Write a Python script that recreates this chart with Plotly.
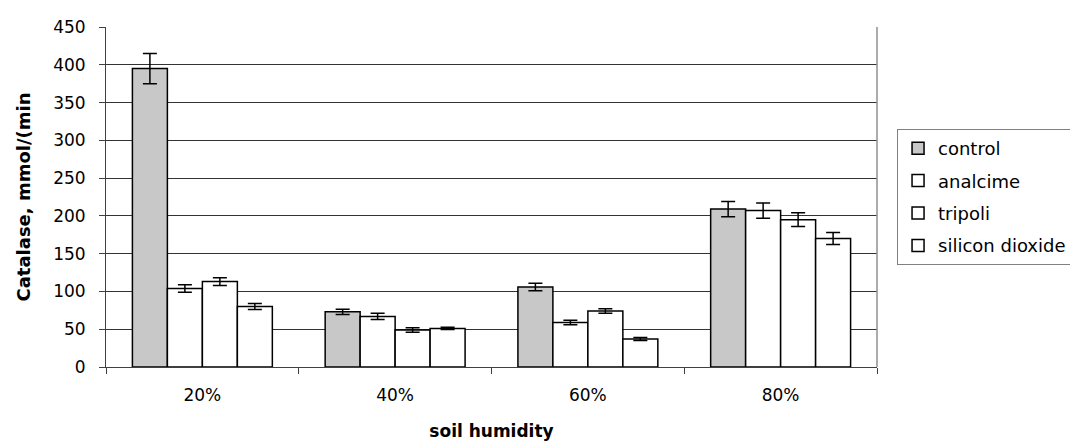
import plotly.graph_objects as go

categories = ["20%", "40%", "60%", "80%"]
series_names = ["control", "analcime", "tripoli", "silicon dioxide"]
control = [395, 73, 106, 209]
analcime = [104, 67, 59, 207]
tripoli = [113, 49, 74, 195]
silicon_dioxide = [80, 51, 37, 170]
control_err = [20, 3.5, 5, 10]
analcime_err = [5, 4, 3, 10]
tripoli_err = [5, 3, 3, 9]
silicon_dioxide_err = [4, 1.5, 2, 8]
y_ticks = [0, 50, 100, 150, 200, 250, 300, 350, 400, 450]

values = [control, analcime, tripoli, silicon_dioxide]
errors = [control_err, analcime_err, tripoli_err, silicon_dioxide_err]
fills = ["#c8c8c8", "#ffffff", "#ffffff", "#ffffff"]

FONT = "DejaVu Sans"

fig = go.Figure()
for name, vals, errs, fc in zip(series_names, values, errors, fills):
    fig.add_trace(go.Bar(
        x=categories, y=vals, name=name, legendgroup=name,
        marker=dict(color=fc, line=dict(color="#000000", width=1.5)),
        error_y=dict(type="data", array=errs, visible=True,
                     color="#000000", thickness=1.5, width=7),
    ))

# page body has an 8px margin, so the figure is sized to fit inside it
fig.update_layout(
    width=1070, height=433,
    margin=dict(l=98, r=201, t=19, b=74, autoexpand=False),
    paper_bgcolor="white", plot_bgcolor="white",
    barmode="group", bargap=0.274, bargroupgap=0,
    font=dict(family=FONT, size=17, color="#000000"),
    showlegend=True,
    legend=dict(
        x=1.026, y=0.700, xanchor="left", yanchor="top",
        bgcolor="white", bordercolor="#808080", borderwidth=1,
        font=dict(family=FONT, size=18, color="#000000"),
        tracegroupgap=6, itemwidth=30,
    ),
    xaxis=dict(
        automargin=False,
        showline=True, linecolor="#404040", linewidth=1,
        ticks="outside", tickson="boundaries", ticklen=6, tickcolor="#404040",
        ticklabelstandoff=13,
        title=dict(text="<b>soil humidity</b>", font=dict(family=FONT, size=17), standoff=20),
        showgrid=False,
    ),
    yaxis=dict(
        automargin=False,
        range=[0, 450], tickvals=y_ticks,
        showline=True, linecolor="#404040", linewidth=1,
        ticks="outside", ticklen=6, tickcolor="#404040",
        ticklabelstandoff=10,
        showgrid=True, gridcolor="#333333", gridwidth=1,
        zeroline=False,
        title=dict(text="<b>Catalase, mmol/(min</b>", font=dict(family=FONT, size=18), standoff=17),
    ),
)
fig.add_shape(type="line", xref="paper", yref="paper", x0=1, x1=1, y0=0, y1=1,
              line=dict(color="#909090", width=1.5))

fig.write_html("out.html")
